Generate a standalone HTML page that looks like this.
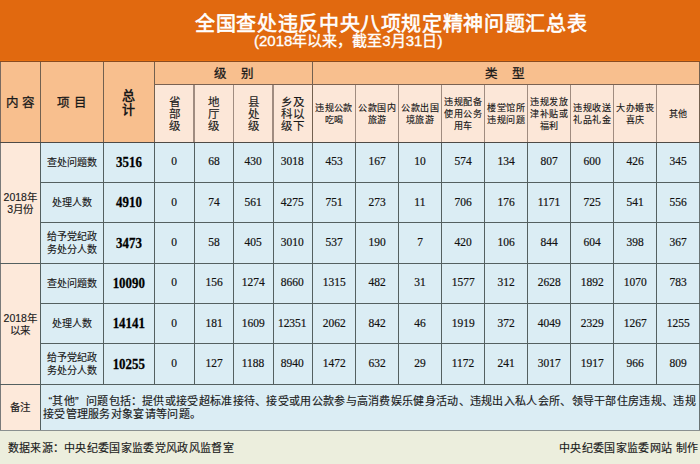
<!DOCTYPE html>
<html lang="zh-CN"><head><meta charset="utf-8"><style>
html,body{margin:0;padding:0;}
body{width:700px;height:464px;overflow:hidden;position:relative;background:#eceedd;font-family:"Liberation Sans",sans-serif;color:#1a1a1a;}
.r{position:absolute;}
.t{position:absolute;box-sizing:border-box;display:flex;align-items:center;justify-content:center;text-align:center;}
.t span{display:block;}
.h1,.h3,.h4,.c1,.c2,.note,.fl,.fr{-webkit-text-stroke:0.15px #1a1a1a;}
.title{position:absolute;left:195px;top:12px;font-size:20px;letter-spacing:0.65px;line-height:24px;-webkit-text-stroke:0.6px #fff;color:#fff;white-space:nowrap;}
.sub{position:absolute;left:254px;top:31.5px;font-size:15px;line-height:17px;-webkit-text-stroke:0.35px #fff;color:#fff;white-space:nowrap;}
.h1{font-size:12.5px;line-height:14px;padding-top:2px;-webkit-text-stroke:0.3px #1a1a1a;}
.hb{padding-top:2px;padding-left:1.5px;}
.hb2{padding-top:2px;padding-right:1.5px;}
.h2{font-size:13px;line-height:14px;font-weight:bold;padding-top:2px;}
.h3{font-size:11.5px;line-height:12px;padding-top:2px;letter-spacing:1.2px;padding-left:1.2px;}
.h4{font-size:9px;letter-spacing:0.4px;padding-left:0.4px;line-height:12.3px;padding-top:2px;box-sizing:border-box;}
.c1{font-size:10.5px;line-height:12px;}
.c2{font-size:10px;line-height:12.5px;padding-top:1.5px;}
.n1{font-family:"Liberation Serif",serif;font-size:15px;font-weight:bold;color:#000;}
.n1{padding-top:0.5px;-webkit-text-stroke:0.3px #000;}
.n1 span{transform:scaleX(0.86);}
.n2 span{transform:scaleX(0.94);}
.n2{font-family:"Liberation Serif",serif;font-size:12.2px;color:#111;padding-bottom:1px;box-sizing:border-box;-webkit-text-stroke:0.2px #111;}
.note{position:absolute;left:43px;top:395px;font-size:11px;letter-spacing:0.3px;line-height:13px;white-space:nowrap;}
.q1{display:inline-block;width:0.85em;text-align:right;}
.q2{display:inline-block;width:1em;text-align:left;}
.fl{position:absolute;left:7.5px;top:440.5px;font-size:11px;letter-spacing:0.35px;line-height:14px;white-space:nowrap;}
.fr{position:absolute;right:1.5px;top:440.5px;font-size:11px;letter-spacing:0.35px;line-height:14px;white-space:nowrap;}
</style></head><body>
<div class="r" style="left:0px;top:0px;width:700px;height:61.5px;background:#e1690f;"></div>
<div class="r" style="left:0px;top:59.5px;width:700px;height:1.5px;background:#e9700f;"></div>
<div class="r" style="left:0px;top:61.5px;width:700px;height:80.80000000000001px;background:#f8bf8e;"></div>
<div class="r" style="left:154.3px;top:84.3px;width:545.7px;height:58.000000000000014px;background:#fce7d8;"></div>
<div class="r" style="left:0px;top:142.3px;width:40.5px;height:241.89999999999998px;background:#fde9da;"></div>
<div class="r" style="left:0px;top:384.2px;width:40.5px;height:46.30000000000001px;background:#fde9da;"></div>
<div class="r" style="left:40.5px;top:142.3px;width:659.5px;height:288.2px;background:#dbedf4;"></div>
<div class="r" style="left:0px;top:430.5px;width:700px;height:33.5px;background:#eceedd;"></div>
<div class="r" style="left:0px;top:61.0px;width:700px;height:1px;background:#8a4c22"></div>
<div class="r" style="left:0.0px;top:61.5px;width:1px;height:80.80000000000001px;background:#7a6a60"></div>
<div class="r" style="left:40.0px;top:61.5px;width:1px;height:80.80000000000001px;background:#72604f"></div>
<div class="r" style="left:102.9px;top:61.5px;width:1px;height:80.80000000000001px;background:#72604f"></div>
<div class="r" style="left:153.8px;top:61.5px;width:1px;height:80.80000000000001px;background:#72604f"></div>
<div class="r" style="left:311.8px;top:61.5px;width:1px;height:80.80000000000001px;background:#72604f"></div>
<div class="r" style="left:699.0px;top:61.5px;width:1px;height:80.80000000000001px;background:#72604f"></div>
<div class="r" style="left:193.25px;top:84.3px;width:1.5px;height:58.000000000000014px;background:#a08c80"></div>
<div class="r" style="left:232.75px;top:84.3px;width:1.5px;height:58.000000000000014px;background:#a08c80"></div>
<div class="r" style="left:272.25px;top:84.3px;width:1.5px;height:58.000000000000014px;background:#a08c80"></div>
<div class="r" style="left:354.75px;top:84.3px;width:1.5px;height:58.000000000000014px;background:#a08c80"></div>
<div class="r" style="left:397.75px;top:84.3px;width:1.5px;height:58.000000000000014px;background:#a08c80"></div>
<div class="r" style="left:440.75px;top:84.3px;width:1.5px;height:58.000000000000014px;background:#a08c80"></div>
<div class="r" style="left:483.75px;top:84.3px;width:1.5px;height:58.000000000000014px;background:#a08c80"></div>
<div class="r" style="left:526.75px;top:84.3px;width:1.5px;height:58.000000000000014px;background:#a08c80"></div>
<div class="r" style="left:569.75px;top:84.3px;width:1.5px;height:58.000000000000014px;background:#a08c80"></div>
<div class="r" style="left:612.75px;top:84.3px;width:1.5px;height:58.000000000000014px;background:#a08c80"></div>
<div class="r" style="left:655.75px;top:84.3px;width:1.5px;height:58.000000000000014px;background:#a08c80"></div>
<div class="r" style="left:154.3px;top:83.8px;width:545.7px;height:1px;background:#7a6252"></div>
<div class="r" style="left:0.0px;top:142.3px;width:1px;height:288.2px;background:#7a7a7a"></div>
<div class="r" style="left:40.0px;top:142.3px;width:1px;height:288.2px;background:#546060"></div>
<div class="r" style="left:102.9px;top:142.3px;width:1px;height:241.89999999999998px;background:#546060"></div>
<div class="r" style="left:153.8px;top:142.3px;width:1px;height:241.89999999999998px;background:#546060"></div>
<div class="r" style="left:193.5px;top:142.3px;width:1px;height:241.89999999999998px;background:#546060"></div>
<div class="r" style="left:233.0px;top:142.3px;width:1px;height:241.89999999999998px;background:#546060"></div>
<div class="r" style="left:272.5px;top:142.3px;width:1px;height:241.89999999999998px;background:#546060"></div>
<div class="r" style="left:311.8px;top:142.3px;width:1px;height:241.89999999999998px;background:#546060"></div>
<div class="r" style="left:355.0px;top:142.3px;width:1px;height:241.89999999999998px;background:#546060"></div>
<div class="r" style="left:398.0px;top:142.3px;width:1px;height:241.89999999999998px;background:#546060"></div>
<div class="r" style="left:441.0px;top:142.3px;width:1px;height:241.89999999999998px;background:#546060"></div>
<div class="r" style="left:484.0px;top:142.3px;width:1px;height:241.89999999999998px;background:#546060"></div>
<div class="r" style="left:527.0px;top:142.3px;width:1px;height:241.89999999999998px;background:#546060"></div>
<div class="r" style="left:570.0px;top:142.3px;width:1px;height:241.89999999999998px;background:#546060"></div>
<div class="r" style="left:613.0px;top:142.3px;width:1px;height:241.89999999999998px;background:#546060"></div>
<div class="r" style="left:656.0px;top:142.3px;width:1px;height:241.89999999999998px;background:#546060"></div>
<div class="r" style="left:699.0px;top:142.3px;width:1px;height:288.2px;background:#6a7474"></div>
<div class="r" style="left:0px;top:141.8px;width:700px;height:1px;background:#4e4a46"></div>
<div class="r" style="left:40.5px;top:182.0px;width:659.5px;height:1px;background:#546060"></div>
<div class="r" style="left:40.5px;top:222.4px;width:659.5px;height:1px;background:#546060"></div>
<div class="r" style="left:40.5px;top:302.9px;width:659.5px;height:1px;background:#546060"></div>
<div class="r" style="left:40.5px;top:343.2px;width:659.5px;height:1px;background:#546060"></div>
<div class="r" style="left:0px;top:263.0px;width:700px;height:1px;background:#546060"></div>
<div class="r" style="left:0px;top:383.7px;width:700px;height:1px;background:#546060"></div>
<div class="r" style="left:0px;top:430.0px;width:700px;height:1px;background:#8a9090"></div>
<div class="title">全国查处违反中央八项规定精神问题汇总表</div>
<div class="sub">(2018年以来，截至3月31日)</div>
<div class="t h1" style="left:0px;top:61.5px;width:40.5px;height:80.80000000000001px;"><span>内 容</span></div>
<div class="t h1" style="left:40.5px;top:61.5px;width:62.900000000000006px;height:80.80000000000001px;"><span>项 目</span></div>
<div class="t h2" style="left:103.4px;top:61.5px;width:50.900000000000006px;height:80.80000000000001px;"><span>总<br>计</span></div>
<div class="t h1 hb" style="left:154.3px;top:61.5px;width:158.0px;height:22.799999999999997px;"><span>级<span style="display:inline-block;width:14px"></span>别</span></div>
<div class="t h1 hb2" style="left:312.3px;top:61.5px;width:387.2px;height:22.799999999999997px;"><span>类<span style="display:inline-block;width:14px"></span>型</span></div>
<div class="t h3" style="left:154.3px;top:84.3px;width:39.69999999999999px;height:58.000000000000014px;"><span>省<br>部<br>级</span></div>
<div class="t h3" style="left:194px;top:84.3px;width:39.5px;height:58.000000000000014px;"><span>地<br>厅<br>级</span></div>
<div class="t h3" style="left:233.5px;top:84.3px;width:39.5px;height:58.000000000000014px;"><span>县<br>处<br>级</span></div>
<div class="t h3" style="left:273px;top:84.3px;width:39.30000000000001px;height:58.000000000000014px;"><span>乡及<br>科以<br>级下</span></div>
<div class="t h4" style="left:312.3px;top:84.3px;width:43.19999999999999px;height:58.000000000000014px;"><span>违规公款<br>吃喝</span></div>
<div class="t h4" style="left:355.5px;top:84.3px;width:43.0px;height:58.000000000000014px;"><span>公款国内<br>旅游</span></div>
<div class="t h4" style="left:398.5px;top:84.3px;width:43.0px;height:58.000000000000014px;"><span>公款出国<br>境旅游</span></div>
<div class="t h4" style="left:441.5px;top:84.3px;width:43.0px;height:58.000000000000014px;"><span>违规配备<br>使用公务<br>用车</span></div>
<div class="t h4" style="left:484.5px;top:84.3px;width:43.0px;height:58.000000000000014px;"><span>楼堂馆所<br>违规问题</span></div>
<div class="t h4" style="left:527.5px;top:84.3px;width:43.0px;height:58.000000000000014px;"><span>违规发放<br>津补贴或<br>福利</span></div>
<div class="t h4" style="left:570.5px;top:84.3px;width:43.0px;height:58.000000000000014px;"><span>违规收送<br>礼品礼金</span></div>
<div class="t h4" style="left:613.5px;top:84.3px;width:43.0px;height:58.000000000000014px;"><span>大办婚丧<br>喜庆</span></div>
<div class="t h4" style="left:656.5px;top:84.3px;width:43.0px;height:58.000000000000014px;"><span>其他</span></div>
<div class="t c1" style="left:0px;top:142.3px;width:40.5px;height:121.19999999999999px;"><span>2018年<br>3月份</span></div>
<div class="t c1" style="left:0px;top:263.5px;width:40.5px;height:120.69999999999999px;"><span>2018年<br>以来</span></div>
<div class="t c1" style="left:0px;top:384.2px;width:40.5px;height:46.30000000000001px;"><span>备注</span></div>
<div class="t c2" style="left:40.5px;top:142.3px;width:62.900000000000006px;height:40.19999999999999px;"><span>查处问题数</span></div>
<div class="t n1" style="left:103.4px;top:142.3px;width:50.900000000000006px;height:40.19999999999999px;"><span>3516</span></div>
<div class="t n2" style="left:154.3px;top:142.3px;width:39.69999999999999px;height:40.19999999999999px;"><span>0</span></div>
<div class="t n2" style="left:194px;top:142.3px;width:39.5px;height:40.19999999999999px;"><span>68</span></div>
<div class="t n2" style="left:233.5px;top:142.3px;width:39.5px;height:40.19999999999999px;"><span>430</span></div>
<div class="t n2" style="left:273px;top:142.3px;width:39.30000000000001px;height:40.19999999999999px;"><span>3018</span></div>
<div class="t n2" style="left:312.3px;top:142.3px;width:43.19999999999999px;height:40.19999999999999px;"><span>453</span></div>
<div class="t n2" style="left:355.5px;top:142.3px;width:43.0px;height:40.19999999999999px;"><span>167</span></div>
<div class="t n2" style="left:398.5px;top:142.3px;width:43.0px;height:40.19999999999999px;"><span>10</span></div>
<div class="t n2" style="left:441.5px;top:142.3px;width:43.0px;height:40.19999999999999px;"><span>574</span></div>
<div class="t n2" style="left:484.5px;top:142.3px;width:43.0px;height:40.19999999999999px;"><span>134</span></div>
<div class="t n2" style="left:527.5px;top:142.3px;width:43.0px;height:40.19999999999999px;"><span>807</span></div>
<div class="t n2" style="left:570.5px;top:142.3px;width:43.0px;height:40.19999999999999px;"><span>600</span></div>
<div class="t n2" style="left:613.5px;top:142.3px;width:43.0px;height:40.19999999999999px;"><span>426</span></div>
<div class="t n2" style="left:656.5px;top:142.3px;width:43.0px;height:40.19999999999999px;"><span>345</span></div>
<div class="t c2" style="left:40.5px;top:182.5px;width:62.900000000000006px;height:40.400000000000006px;"><span>处理人数</span></div>
<div class="t n1" style="left:103.4px;top:182.5px;width:50.900000000000006px;height:40.400000000000006px;"><span>4910</span></div>
<div class="t n2" style="left:154.3px;top:182.5px;width:39.69999999999999px;height:40.400000000000006px;"><span>0</span></div>
<div class="t n2" style="left:194px;top:182.5px;width:39.5px;height:40.400000000000006px;"><span>74</span></div>
<div class="t n2" style="left:233.5px;top:182.5px;width:39.5px;height:40.400000000000006px;"><span>561</span></div>
<div class="t n2" style="left:273px;top:182.5px;width:39.30000000000001px;height:40.400000000000006px;"><span>4275</span></div>
<div class="t n2" style="left:312.3px;top:182.5px;width:43.19999999999999px;height:40.400000000000006px;"><span>751</span></div>
<div class="t n2" style="left:355.5px;top:182.5px;width:43.0px;height:40.400000000000006px;"><span>273</span></div>
<div class="t n2" style="left:398.5px;top:182.5px;width:43.0px;height:40.400000000000006px;"><span>11</span></div>
<div class="t n2" style="left:441.5px;top:182.5px;width:43.0px;height:40.400000000000006px;"><span>706</span></div>
<div class="t n2" style="left:484.5px;top:182.5px;width:43.0px;height:40.400000000000006px;"><span>176</span></div>
<div class="t n2" style="left:527.5px;top:182.5px;width:43.0px;height:40.400000000000006px;"><span>1171</span></div>
<div class="t n2" style="left:570.5px;top:182.5px;width:43.0px;height:40.400000000000006px;"><span>725</span></div>
<div class="t n2" style="left:613.5px;top:182.5px;width:43.0px;height:40.400000000000006px;"><span>541</span></div>
<div class="t n2" style="left:656.5px;top:182.5px;width:43.0px;height:40.400000000000006px;"><span>556</span></div>
<div class="t c2" style="left:40.5px;top:222.9px;width:62.900000000000006px;height:40.599999999999994px;"><span>给予党纪政<br>务处分人数</span></div>
<div class="t n1" style="left:103.4px;top:222.9px;width:50.900000000000006px;height:40.599999999999994px;"><span>3473</span></div>
<div class="t n2" style="left:154.3px;top:222.9px;width:39.69999999999999px;height:40.599999999999994px;"><span>0</span></div>
<div class="t n2" style="left:194px;top:222.9px;width:39.5px;height:40.599999999999994px;"><span>58</span></div>
<div class="t n2" style="left:233.5px;top:222.9px;width:39.5px;height:40.599999999999994px;"><span>405</span></div>
<div class="t n2" style="left:273px;top:222.9px;width:39.30000000000001px;height:40.599999999999994px;"><span>3010</span></div>
<div class="t n2" style="left:312.3px;top:222.9px;width:43.19999999999999px;height:40.599999999999994px;"><span>537</span></div>
<div class="t n2" style="left:355.5px;top:222.9px;width:43.0px;height:40.599999999999994px;"><span>190</span></div>
<div class="t n2" style="left:398.5px;top:222.9px;width:43.0px;height:40.599999999999994px;"><span>7</span></div>
<div class="t n2" style="left:441.5px;top:222.9px;width:43.0px;height:40.599999999999994px;"><span>420</span></div>
<div class="t n2" style="left:484.5px;top:222.9px;width:43.0px;height:40.599999999999994px;"><span>106</span></div>
<div class="t n2" style="left:527.5px;top:222.9px;width:43.0px;height:40.599999999999994px;"><span>844</span></div>
<div class="t n2" style="left:570.5px;top:222.9px;width:43.0px;height:40.599999999999994px;"><span>604</span></div>
<div class="t n2" style="left:613.5px;top:222.9px;width:43.0px;height:40.599999999999994px;"><span>398</span></div>
<div class="t n2" style="left:656.5px;top:222.9px;width:43.0px;height:40.599999999999994px;"><span>367</span></div>
<div class="t c2" style="left:40.5px;top:263.5px;width:62.900000000000006px;height:39.89999999999998px;"><span>查处问题数</span></div>
<div class="t n1" style="left:103.4px;top:263.5px;width:50.900000000000006px;height:39.89999999999998px;"><span>10090</span></div>
<div class="t n2" style="left:154.3px;top:263.5px;width:39.69999999999999px;height:39.89999999999998px;"><span>0</span></div>
<div class="t n2" style="left:194px;top:263.5px;width:39.5px;height:39.89999999999998px;"><span>156</span></div>
<div class="t n2" style="left:233.5px;top:263.5px;width:39.5px;height:39.89999999999998px;"><span>1274</span></div>
<div class="t n2" style="left:273px;top:263.5px;width:39.30000000000001px;height:39.89999999999998px;"><span>8660</span></div>
<div class="t n2" style="left:312.3px;top:263.5px;width:43.19999999999999px;height:39.89999999999998px;"><span>1315</span></div>
<div class="t n2" style="left:355.5px;top:263.5px;width:43.0px;height:39.89999999999998px;"><span>482</span></div>
<div class="t n2" style="left:398.5px;top:263.5px;width:43.0px;height:39.89999999999998px;"><span>31</span></div>
<div class="t n2" style="left:441.5px;top:263.5px;width:43.0px;height:39.89999999999998px;"><span>1577</span></div>
<div class="t n2" style="left:484.5px;top:263.5px;width:43.0px;height:39.89999999999998px;"><span>312</span></div>
<div class="t n2" style="left:527.5px;top:263.5px;width:43.0px;height:39.89999999999998px;"><span>2628</span></div>
<div class="t n2" style="left:570.5px;top:263.5px;width:43.0px;height:39.89999999999998px;"><span>1892</span></div>
<div class="t n2" style="left:613.5px;top:263.5px;width:43.0px;height:39.89999999999998px;"><span>1070</span></div>
<div class="t n2" style="left:656.5px;top:263.5px;width:43.0px;height:39.89999999999998px;"><span>783</span></div>
<div class="t c2" style="left:40.5px;top:303.4px;width:62.900000000000006px;height:40.30000000000001px;"><span>处理人数</span></div>
<div class="t n1" style="left:103.4px;top:303.4px;width:50.900000000000006px;height:40.30000000000001px;"><span>14141</span></div>
<div class="t n2" style="left:154.3px;top:303.4px;width:39.69999999999999px;height:40.30000000000001px;"><span>0</span></div>
<div class="t n2" style="left:194px;top:303.4px;width:39.5px;height:40.30000000000001px;"><span>181</span></div>
<div class="t n2" style="left:233.5px;top:303.4px;width:39.5px;height:40.30000000000001px;"><span>1609</span></div>
<div class="t n2" style="left:273px;top:303.4px;width:39.30000000000001px;height:40.30000000000001px;"><span>12351</span></div>
<div class="t n2" style="left:312.3px;top:303.4px;width:43.19999999999999px;height:40.30000000000001px;"><span>2062</span></div>
<div class="t n2" style="left:355.5px;top:303.4px;width:43.0px;height:40.30000000000001px;"><span>842</span></div>
<div class="t n2" style="left:398.5px;top:303.4px;width:43.0px;height:40.30000000000001px;"><span>46</span></div>
<div class="t n2" style="left:441.5px;top:303.4px;width:43.0px;height:40.30000000000001px;"><span>1919</span></div>
<div class="t n2" style="left:484.5px;top:303.4px;width:43.0px;height:40.30000000000001px;"><span>372</span></div>
<div class="t n2" style="left:527.5px;top:303.4px;width:43.0px;height:40.30000000000001px;"><span>4049</span></div>
<div class="t n2" style="left:570.5px;top:303.4px;width:43.0px;height:40.30000000000001px;"><span>2329</span></div>
<div class="t n2" style="left:613.5px;top:303.4px;width:43.0px;height:40.30000000000001px;"><span>1267</span></div>
<div class="t n2" style="left:656.5px;top:303.4px;width:43.0px;height:40.30000000000001px;"><span>1255</span></div>
<div class="t c2" style="left:40.5px;top:343.7px;width:62.900000000000006px;height:40.5px;"><span>给予党纪政<br>务处分人数</span></div>
<div class="t n1" style="left:103.4px;top:343.7px;width:50.900000000000006px;height:40.5px;"><span>10255</span></div>
<div class="t n2" style="left:154.3px;top:343.7px;width:39.69999999999999px;height:40.5px;"><span>0</span></div>
<div class="t n2" style="left:194px;top:343.7px;width:39.5px;height:40.5px;"><span>127</span></div>
<div class="t n2" style="left:233.5px;top:343.7px;width:39.5px;height:40.5px;"><span>1188</span></div>
<div class="t n2" style="left:273px;top:343.7px;width:39.30000000000001px;height:40.5px;"><span>8940</span></div>
<div class="t n2" style="left:312.3px;top:343.7px;width:43.19999999999999px;height:40.5px;"><span>1472</span></div>
<div class="t n2" style="left:355.5px;top:343.7px;width:43.0px;height:40.5px;"><span>632</span></div>
<div class="t n2" style="left:398.5px;top:343.7px;width:43.0px;height:40.5px;"><span>29</span></div>
<div class="t n2" style="left:441.5px;top:343.7px;width:43.0px;height:40.5px;"><span>1172</span></div>
<div class="t n2" style="left:484.5px;top:343.7px;width:43.0px;height:40.5px;"><span>241</span></div>
<div class="t n2" style="left:527.5px;top:343.7px;width:43.0px;height:40.5px;"><span>3017</span></div>
<div class="t n2" style="left:570.5px;top:343.7px;width:43.0px;height:40.5px;"><span>1917</span></div>
<div class="t n2" style="left:613.5px;top:343.7px;width:43.0px;height:40.5px;"><span>966</span></div>
<div class="t n2" style="left:656.5px;top:343.7px;width:43.0px;height:40.5px;"><span>809</span></div>
<div class="note"><span class="q1">“</span>其他<span class="q2">”</span>问题包括<span class="q2">：</span>提供或接受超标准接待、接受或用公款参与高消费娱乐健身活动、违规出入私人会所、领导干部住房违规、违规<br>接受管理服务对象宴请等问题。</div>
<div class="fl">数据来源<span class="q2">：</span>中央纪委国家监委党风政风监督室</div>
<div class="fr">中央纪委国家监委网站&nbsp;制作</div>
</body></html>
